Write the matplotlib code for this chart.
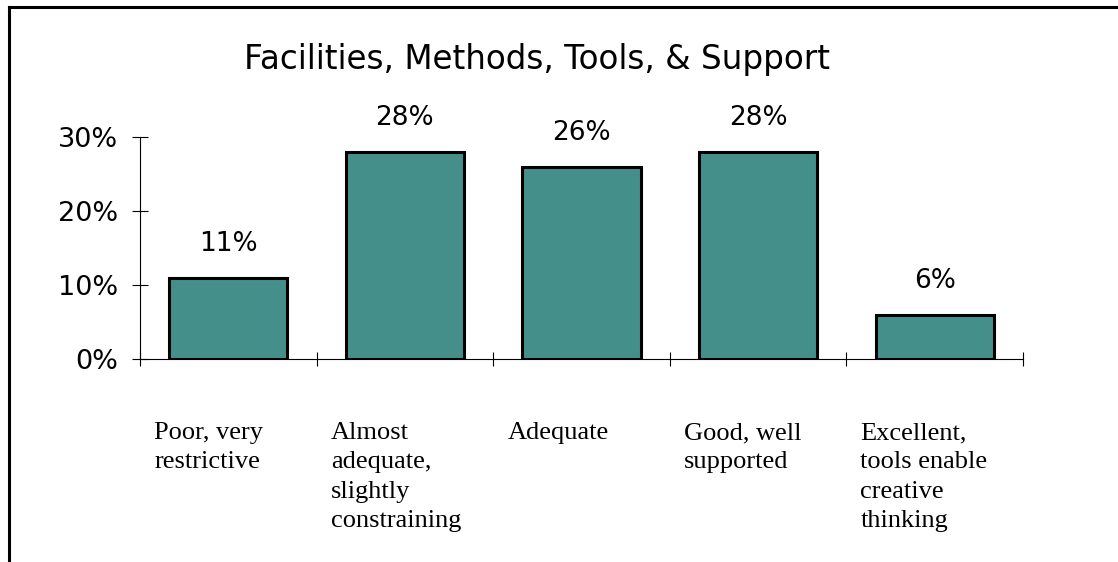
import matplotlib
matplotlib.use("Agg")
import matplotlib.pyplot as plt
from matplotlib.lines import Line2D

# survey answers and share of respondents (%)
categories = [
    "Poor, very\nrestrictive",
    "Almost\nadequate,\nslightly\nconstraining",
    "Adequate",
    "Good, well\nsupported",
    "Excellent,\ntools enable\ncreative\nthinking",
]
shares = [11, 28, 26, 28, 6]
yticks = [0, 10, 20, 30]
ytick_labels = ["0%", "10%", "20%", "30%"]

fig = plt.figure(figsize=(11.18, 5.62), dpi=100)
ax = fig.add_axes([0.1252, 0.3612, 0.7898, 0.395])

x = list(range(len(categories)))
ax.bar(x, shares, width=0.67, color="#458F8B", edgecolor="black",
       linewidth=2.2, zorder=3)

# percentage above each bar
for xi, v in zip(x, shares):
    ax.text(xi, v + 2.8, f"{v}%", ha="center", va="bottom",
            fontsize=19, family="DejaVu Sans")

# category labels, left aligned under each slot
for xi, lab in zip(x, categories):
    ax.text(xi - 0.42, -0.285, lab, ha="left", va="top",
            transform=ax.get_xaxis_transform(), fontsize=19,
            family="Liberation Serif", linespacing=1.42)

ax.set_xlim(-0.5, len(categories) - 0.5)
ax.set_ylim(0, 30)
ax.set_yticks(yticks)
ax.set_yticklabels(ytick_labels, fontsize=19.5, family="DejaVu Sans")
ax.set_xticks([i - 0.5 for i in range(len(categories) + 1)])
ax.set_xticklabels([])
ax.tick_params(axis="y", direction="inout", length=12, width=0.8, pad=10)
ax.tick_params(axis="x", direction="inout", length=10, width=0.8)
for s in ["top", "right"]:
    ax.spines[s].set_visible(False)
for s in ["left", "bottom"]:
    ax.spines[s].set_linewidth(0.8)

fig.text(0.4805, 0.895, "Facilities, Methods, Tools, & Support", ha="center",
         va="center", fontsize=23.5, family="DejaVu Sans")

# frame lines along the top and left edge
fig.add_artist(Line2D([0.0081, 1.0], [0.9884, 0.9884], color="black",
                      linewidth=2.2, transform=fig.transFigure))
fig.add_artist(Line2D([0.0081, 0.0081], [0.0, 0.9884], color="black",
                      linewidth=2.2, transform=fig.transFigure))

fig.savefig("out.png", dpi=100)
